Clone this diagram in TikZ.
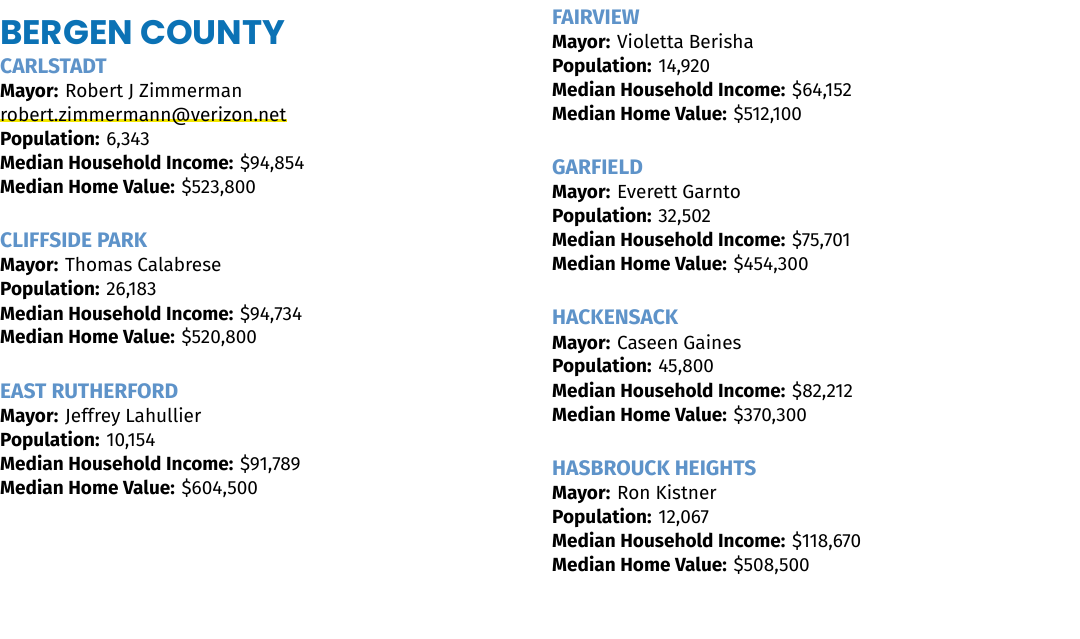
\documentclass[tikz,border=0pt]{standalone}
\usepackage{fontspec}
\setmainfont{Fira Sans}
\newfontfamily\titlefont{Poppins}
\definecolor{titleblue}{HTML}{0B72B5}
\definecolor{headblue}{HTML}{5E93C9}
\definecolor{hl}{HTML}{F2E600}
\tikzset{
 x=1pt,y=-1pt,
 txt/.style={anchor=base west,inner sep=0pt,font=\fontsize{19}{22}\selectfont},
 head/.style={txt,text=headblue,font=\fontsize{21}{22}\selectfont\bfseries},
}
\newcommand{\lb}[1]{\textbf{#1}}
\begin{document}
\begin{tikzpicture}
\useasboundingbox (0,0) rectangle (1080,639);
\node[anchor=base west,inner sep=0pt,text=titleblue,font=\fontsize{34}{36}\selectfont\titlefont\bfseries] (title) at (0,45) {BERGEN COUNTY};
% left column
\fill[hl] (0,119.5) rectangle (287,122.5);
\node[head] (h1) at (0,74) {CARLSTADT};
\node[txt] (a1) at (0,98) {\lb{Mayor:} Robert J Zimmerman};
\node[txt] (a2) at (0,122) {robert.zimmermann@verizon.net};
\node[txt] (a3) at (0,146) {\lb{Population:} 6,343};
\node[txt] (a4) at (0,170) {\lb{Median Household Income:} \$94,854};
\node[txt] (a5) at (0,194) {\lb{Median Home Value:} \$523,800};
\node[head] (h2) at (0,248) {CLIFFSIDE PARK};
\node[txt] (b1) at (0,272) {\lb{Mayor:} Thomas Calabrese};
\node[txt] (b2) at (0,296) {\lb{Population:} 26,183};
\node[txt] (b3) at (0,320) {\lb{Median Household Income:} \$94,734};
\node[txt] (b4) at (0,344) {\lb{Median Home Value:} \$520,800};
\node[head] (h3) at (0,398) {EAST RUTHERFORD};
\node[txt] (c1) at (0,422) {\lb{Mayor:} Jeffrey Lahullier};
\node[txt] (c2) at (0,446) {\lb{Population:} 10,154};
\node[txt] (c3) at (0,470) {\lb{Median Household Income:} \$91,789};
\node[txt] (c4) at (0,494) {\lb{Median Home Value:} \$604,500};
% right column
\node[head] (h4) at (552,25) {FAIRVIEW};
\node[txt] (d1) at (552,49) {\lb{Mayor:} Violetta Berisha};
\node[txt] (d2) at (552,73) {\lb{Population:} 14,920};
\node[txt] (d3) at (552,97) {\lb{Median Household Income:} \$64,152};
\node[txt] (d4) at (552,121) {\lb{Median Home Value:} \$512,100};
\node[head] (h5) at (552,175) {GARFIELD};
\node[txt] (e1) at (552,199) {\lb{Mayor:} Everett Garnto};
\node[txt] (e2) at (552,223) {\lb{Population:} 32,502};
\node[txt] (e3) at (552,247) {\lb{Median Household Income:} \$75,701};
\node[txt] (e4) at (552,271) {\lb{Median Home Value:} \$454,300};
\node[head] (h6) at (552,325) {HACKENSACK};
\node[txt] (f1) at (552,349) {\lb{Mayor:} Caseen Gaines};
\node[txt] (f2) at (552,373) {\lb{Population:} 45,800};
\node[txt] (f3) at (552,397) {\lb{Median Household Income:} \$82,212};
\node[txt] (f4) at (552,421) {\lb{Median Home Value:} \$370,300};
\node[head] (h7) at (552,475) {HASBROUCK HEIGHTS};
\node[txt] (g1) at (552,499) {\lb{Mayor:} Ron Kistner};
\node[txt] (g2) at (552,523) {\lb{Population:} 12,067};
\node[txt] (g3) at (552,547) {\lb{Median Household Income:} \$118,670};
\node[txt] (g4) at (552,571) {\lb{Median Home Value:} \$508,500};
\end{tikzpicture}
\end{document}
